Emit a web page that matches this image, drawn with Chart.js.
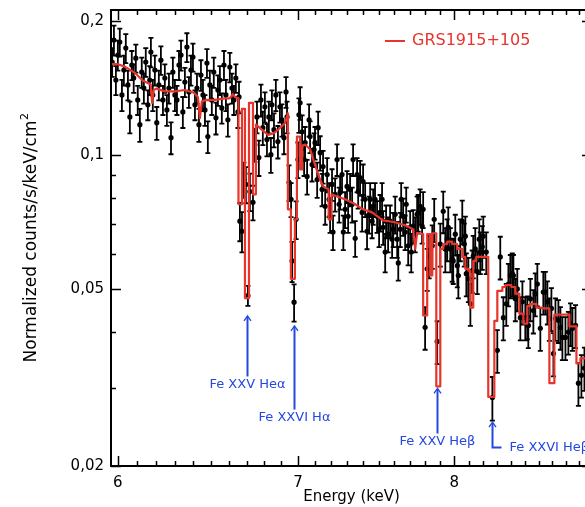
<!DOCTYPE html>
<html>
<head>
<meta charset="utf-8">
<script src="https://cdn.jsdelivr.net/npm/chart.js@4.4.0/dist/chart.umd.min.js"></script>
<style>
  html, body { margin: 0; padding: 0; background: #fff; overflow: hidden; }
  canvas { display: block; }
</style>
</head>
<body>
<canvas id="spec" width="600" height="507"></canvas>
<script>
// observed spectrum (keV, counts/s/keV/cm2, 1-sigma)
const energy = [
  5.971, 5.980, 5.990, 6.000, 6.010, 6.021, 6.031, 6.041, 6.052, 6.062, 6.072, 6.082, 6.093, 6.103, 6.114, 6.124,
  6.135, 6.145, 6.156, 6.166, 6.172, 6.182, 6.193, 6.203, 6.214, 6.225, 6.236, 6.246, 6.257, 6.268, 6.279, 6.289,
  6.300, 6.311, 6.322, 6.333, 6.343, 6.354, 6.365, 6.376, 6.387, 6.398, 6.409, 6.420, 6.431, 6.442, 6.453, 6.464,
  6.475, 6.480, 6.491, 6.502, 6.513, 6.525, 6.536, 6.547, 6.558, 6.570, 6.581, 6.592, 6.603, 6.615, 6.626, 6.637,
  6.649, 6.655,
  6.660, 6.672, 6.683, 6.694, 6.706, 6.717, 6.735, 6.746, 6.758, 6.769, 6.781, 6.792, 6.804, 6.816, 6.827, 6.839,
  6.845, 6.857, 6.868, 6.880, 6.892, 6.904, 6.916, 6.928, 6.934, 6.946, 6.958, 6.964, 6.976, 6.988, 6.999, 7.005,
  7.012, 7.024,
  7.036, 7.042, 7.054, 7.066, 7.072, 7.084, 7.096, 7.102, 7.115, 7.121, 7.133, 7.145, 7.151, 7.164, 7.176, 7.188,
  7.194, 7.206, 7.212, 7.225, 7.237, 7.250, 7.256, 7.268, 7.276, 7.287, 7.299, 7.306, 7.318, 7.331, 7.337, 7.350,
  7.362, 7.369, 7.381, 7.394, 7.400, 7.413, 7.425, 7.438, 7.445, 7.457, 7.464, 7.476, 7.489, 7.502, 7.508, 7.521,
  7.528, 7.541, 7.547, 7.560, 7.573, 7.586, 7.593, 7.606, 7.619, 7.626, 7.639, 7.645, 7.658, 7.671, 7.678, 7.691,
  7.704, 7.711, 7.724, 7.737, 7.750, 7.757, 7.770, 7.783, 7.790,
  7.803, 7.817, 7.830, 7.851, 7.864, 7.884, 7.905, 7.925, 7.939, 7.952, 7.959, 7.973, 7.986, 7.993, 8.007, 8.021,
  8.028, 8.041, 8.055, 8.069, 8.076, 8.083, 8.097, 8.111, 8.124, 8.131, 8.145, 8.159, 8.173, 8.180, 8.194, 8.201,
  8.222, 8.265, 8.300, 8.321, 8.343, 8.364, 8.379, 8.393, 8.407, 8.415, 8.429, 8.443, 8.465, 8.480, 8.501, 8.516,
  8.523, 8.538, 8.560, 8.574, 8.589, 8.611, 8.633, 8.648, 8.663, 8.678, 8.693, 8.708, 8.723, 8.745, 8.760, 8.775,
  8.798, 8.820, 8.836, 8.851, 8.874, 8.896, 8.919, 8.942
];
const flux = [
  0.1618, 0.1813, 0.1474, 0.1677, 0.1794, 0.1365, 0.1552, 0.1739, 0.1437, 0.1218, 0.1593, 0.1489, 0.1651, 0.1330, 0.1170, 0.1536,
  0.1414, 0.1618, 0.1297, 0.1474, 0.1704, 0.1365, 0.1552, 0.1182, 0.1437, 0.1634, 0.1330, 0.1489, 0.1263, 0.1414, 0.1094, 0.1536,
  0.1365, 0.1330, 0.1593, 0.1677, 0.1250, 0.1459, 0.1748, 0.1386, 0.1552, 0.1660, 0.1297, 0.1414, 0.1170, 0.1513, 0.1365, 0.1263,
  0.1610, 0.1100, 0.1437, 0.1330, 0.1536, 0.1212, 0.1400, 0.1474, 0.1276, 0.1593, 0.1365, 0.1200, 0.1577, 0.1414, 0.1330, 0.1489,
  0.1250, 0.1351,
  0.0710, 0.0674, 0.0881, 0.0859, 0.0483, 0.0828, 0.0783, 0.1055, 0.1218, 0.0987, 0.1330, 0.1152, 0.1283, 0.1083, 0.1218, 0.1002,
  0.1297, 0.1140, 0.1365, 0.1072, 0.1283, 0.1200, 0.1094, 0.1386, 0.1218, 0.0868, 0.0795, 0.0578, 0.0467, 0.0717, 0.0977, 0.1231,
  0.1310, 0.1128,
  0.0977, 0.1066, 0.0895, 0.1200, 0.1100, 0.0952, 0.1029, 0.1066, 0.0881, 0.1152, 0.1012, 0.0837, 0.0942, 0.0767, 0.0904, 0.0795,
  0.0728, 0.0859, 0.0671, 0.0816, 0.0977, 0.0775, 0.0824, 0.0904, 0.0671, 0.0755, 0.0850, 0.0728, 0.0837, 0.0775, 0.0977, 0.0650,
  0.0904, 0.0828, 0.0890, 0.0743, 0.0872, 0.0795, 0.0674, 0.0736, 0.0795, 0.0710, 0.0767, 0.0795, 0.0728, 0.0681, 0.0743, 0.0795,
  0.0688, 0.0605, 0.0710, 0.0664, 0.0710, 0.0647, 0.0681, 0.0736, 0.0647, 0.0572, 0.0681, 0.0795, 0.0728, 0.0671, 0.0775, 0.0625,
  0.0688, 0.0605, 0.0692, 0.0664, 0.0736, 0.0743, 0.0767, 0.0692, 0.0755,
  0.0410, 0.0555, 0.0593, 0.0625, 0.0717, 0.0381, 0.0631, 0.0747, 0.0615, 0.0647, 0.0688, 0.0615, 0.0584, 0.0578, 0.0664, 0.0564,
  0.0536, 0.0647, 0.0710, 0.0631, 0.0657, 0.0541, 0.0527, 0.0463, 0.0550, 0.0593, 0.0615, 0.0547, 0.0647, 0.0605, 0.0622, 0.0657,
  0.0605, 0.0285, 0.0364, 0.0590, 0.0431, 0.0463, 0.0513, 0.0536, 0.0541, 0.0536, 0.0475, 0.0500, 0.0431, 0.0468, 0.0431, 0.0433,
  0.0414, 0.0475, 0.0447, 0.0488, 0.0513, 0.0408, 0.0492, 0.0492, 0.0468, 0.0429, 0.0452, 0.0358, 0.0429, 0.0425, 0.0410, 0.0389,
  0.0389, 0.0400, 0.0418, 0.0408, 0.0414, 0.0307, 0.0320, 0.0332
];
const fluxErr = [
  0.012, 0.014, 0.011, 0.013, 0.013, 0.011, 0.012, 0.013, 0.011, 0.010, 0.012, 0.011, 0.012, 0.010, 0.010, 0.012,
  0.011, 0.012, 0.010, 0.011, 0.013, 0.011, 0.012, 0.010, 0.011, 0.012, 0.010, 0.011, 0.010, 0.011, 0.009, 0.012,
  0.011, 0.010, 0.012, 0.013, 0.010, 0.011, 0.013, 0.011, 0.012, 0.012, 0.010, 0.011, 0.010, 0.012, 0.011, 0.010,
  0.012, 0.009, 0.011, 0.010, 0.012, 0.010, 0.011, 0.011, 0.010, 0.012, 0.011, 0.010, 0.012, 0.011, 0.010, 0.011,
  0.010, 0.011,
  0.007, 0.007, 0.008, 0.008, 0.0025, 0.008, 0.007, 0.009, 0.010, 0.009, 0.011, 0.010, 0.010, 0.009, 0.010, 0.009,
  0.010, 0.010, 0.011, 0.009, 0.010, 0.010, 0.009, 0.011, 0.010, 0.008, 0.007, 0.006, 0.0045, 0.007, 0.009, 0.011,
  0.011, 0.010,
  0.008, 0.009, 0.008, 0.010, 0.009, 0.008, 0.009, 0.009, 0.008, 0.010, 0.009, 0.007, 0.008, 0.007, 0.008, 0.007,
  0.006, 0.007, 0.006, 0.007, 0.008, 0.007, 0.007, 0.008, 0.006, 0.007, 0.007, 0.006, 0.007, 0.007, 0.008, 0.006,
  0.008, 0.007, 0.008, 0.007, 0.008, 0.007, 0.006, 0.007, 0.007, 0.006, 0.007, 0.007, 0.006, 0.006, 0.007, 0.007,
  0.006, 0.006, 0.006, 0.006, 0.006, 0.006, 0.006, 0.007, 0.006, 0.005, 0.006, 0.007, 0.007, 0.006, 0.007, 0.006,
  0.006, 0.006, 0.006, 0.006, 0.007, 0.007, 0.007, 0.006, 0.007,
  0.0045, 0.006, 0.0065, 0.007, 0.008, 0.0042, 0.007, 0.008, 0.007, 0.007, 0.0075, 0.007, 0.0065, 0.0065, 0.007, 0.006,
  0.006, 0.007, 0.008, 0.007, 0.007, 0.006, 0.006, 0.005, 0.006, 0.0065, 0.007, 0.006, 0.007, 0.0065, 0.007, 0.007,
  0.0065, 0.0032, 0.004, 0.0065, 0.0048, 0.005, 0.0056, 0.006, 0.006, 0.006, 0.0052, 0.0055, 0.0048, 0.0052, 0.0048, 0.0048,
  0.0046, 0.0052, 0.005, 0.0054, 0.0056, 0.0045, 0.0054, 0.0054, 0.0052, 0.0047, 0.005, 0.004, 0.0047, 0.0047, 0.0045, 0.0043,
  0.0043, 0.0044, 0.0046, 0.0045, 0.0046, 0.0034, 0.0035, 0.0037
];

// folded model; repeated energies are the bin edges of the stepped part
const modelE = [
  5.966, 6.000, 6.036, 6.088, 6.129, 6.171, 6.179, 6.187, 6.203, 6.246, 6.300, 6.354, 6.403, 6.425, 6.436, 6.447,
  6.475, 6.519, 6.575, 6.603, 6.620, 6.632, 6.652,
  6.652, 6.672, 6.672, 6.689, 6.689, 6.712, 6.712, 6.735, 6.735, 6.752, 6.752, 6.787, 6.822, 6.857, 6.892, 6.922, 6.939,
  6.939, 6.957, 6.957, 6.981, 6.981, 6.993, 6.993, 7.012, 7.012, 7.024, 7.024, 7.042, 7.072, 7.102, 7.133, 7.152, 7.185,
  7.185, 7.203, 7.203, 7.250, 7.287, 7.350, 7.400, 7.457, 7.527, 7.605, 7.671, 7.724, 7.737, 7.750, 7.790,
  7.790, 7.817, 7.817, 7.837, 7.837, 7.851, 7.851, 7.878, 7.878, 7.905, 7.905, 7.925, 7.925, 7.952, 7.952, 7.986,
  7.986, 8.020, 8.020, 8.055, 8.055, 8.076, 8.076, 8.097, 8.097, 8.111, 8.111, 8.131, 8.131, 8.152, 8.152, 8.236,
  8.236, 8.279, 8.279, 8.300, 8.300, 8.336, 8.336, 8.357, 8.357, 8.400, 8.400, 8.429, 8.429, 8.458, 8.458, 8.487,
  8.487, 8.516, 8.516, 8.538, 8.538, 8.582, 8.582, 8.626, 8.626, 8.678, 8.678, 8.715, 8.715, 8.828, 8.828, 8.881,
  8.881, 8.911, 8.911, 9.000
];
const modelF = [
  0.160, 0.160, 0.158, 0.153, 0.147, 0.144, 0.131, 0.140, 0.141, 0.139, 0.139, 0.140, 0.138, 0.135, 0.121, 0.132,
  0.133, 0.133, 0.134, 0.134, 0.137, 0.135, 0.134,
  0.0775, 0.0775, 0.127, 0.127, 0.0477, 0.0477, 0.131, 0.131, 0.0816, 0.0816, 0.117, 0.114, 0.111, 0.112, 0.115, 0.118, 0.124,
  0.0755, 0.0755, 0.0527, 0.0527, 0.0717, 0.0717, 0.110, 0.110, 0.0928, 0.0928, 0.105, 0.1055, 0.103, 0.095, 0.088, 0.085, 0.0837,
  0.0717, 0.0717, 0.0816, 0.0804, 0.0795, 0.0775, 0.0755, 0.0743, 0.0713, 0.0706, 0.0695, 0.0681, 0.0615, 0.0668, 0.0664,
  0.0436, 0.0436, 0.0664, 0.0664, 0.0536, 0.0536, 0.0667, 0.0667, 0.0302, 0.0302, 0.0615, 0.0615, 0.0631, 0.0631, 0.0639, 0.0639,
  0.0631, 0.0631, 0.0615, 0.0615, 0.0590, 0.0590, 0.0555, 0.0555, 0.0550, 0.0550, 0.0454, 0.0454, 0.0578, 0.0578, 0.0590, 0.0590,
  0.0286, 0.0286, 0.0424, 0.0424, 0.0495, 0.0495, 0.0505, 0.0505, 0.0510, 0.0510, 0.0505, 0.0505, 0.0488, 0.0488, 0.0440, 0.0440,
  0.0418, 0.0418, 0.0458, 0.0458, 0.0463, 0.0463, 0.0454, 0.0454, 0.0452, 0.0452, 0.0307, 0.0307, 0.0438, 0.0438, 0.0412, 0.0412,
  0.0340, 0.0340, 0.0349, 0.0349
];

// absorption lines marked below the spectrum
const lineNames = ['Fe XXV Heα', 'Fe XXVI Hα', 'Fe XXV Heβ', 'Fe XXVI Heβ'];
const lineE = [6.700, 6.976, 7.886, 8.262];

const xMajor = [6, 7, 8, 9];
const xLabels = ['6', '7', '8', '9'];
const yMajor = [0.2, 0.1, 0.05, 0.02];
const yLabels = ['0,2', '0,1', '0,05', '0,02'];
const yMinor = [0.03, 0.04, 0.06, 0.07, 0.08, 0.09];

const RED = '#e8352b';
const BLUE = '#2447e0';
const FONT = '"DejaVu Sans", sans-serif';

// arrow layout per line: arrow tip and label level (flux units), label placement
const notes = [
  { tip: 0.0435, text: 0.0305, align: 'below' },
  { tip: 0.0413, text: 0.0257, align: 'below' },
  { tip: 0.0299, text: 0.0227, align: 'below' },
  { tip: 0.0251, text: 0.0220, align: 'side' }
];

const frame = {
  id: 'frame',
  beforeDatasetsDraw(chart) {
    const { ctx, chartArea: a, scales: { x, y } } = chart;
    ctx.save();
    ctx.beginPath();
    ctx.rect(a.left, a.top, a.right - a.left, a.bottom - a.top);
    ctx.clip();
    ctx.strokeStyle = '#000';
    ctx.lineWidth = 1.8;
    ctx.beginPath();
    energy.forEach((e, i) => {
      const px = x.getPixelForValue(e);
      const hi = y.getPixelForValue(flux[i] + fluxErr[i]);
      const lo = y.getPixelForValue(flux[i] - fluxErr[i]);
      ctx.moveTo(px, hi); ctx.lineTo(px, lo);
      ctx.moveTo(px - 2.5, hi); ctx.lineTo(px + 2.5, hi);
      ctx.moveTo(px - 2.5, lo); ctx.lineTo(px + 2.5, lo);
    });
    ctx.stroke();
    ctx.restore();
  },
  afterDraw(chart) {
    const { ctx, chartArea: a, scales: { x, y } } = chart;
    ctx.save();

    // box
    ctx.strokeStyle = '#000';
    ctx.lineWidth = 2;
    ctx.strokeRect(a.left, a.top, a.right - a.left, a.bottom - a.top);

    // inward ticks on all four sides
    ctx.lineWidth = 1.5;
    ctx.beginPath();
    for (let k = 60; k <= 90; k++) {
      const px = Math.round(x.getPixelForValue(k / 10)) + 0.5;
      const len = k % 10 === 0 ? 10 : 5;
      ctx.moveTo(px, a.bottom); ctx.lineTo(px, a.bottom - len);
      ctx.moveTo(px, a.top); ctx.lineTo(px, a.top + len);
    }
    yMajor.concat(yMinor).forEach((v, i) => {
      const py = Math.round(y.getPixelForValue(v)) + 0.5;
      const len = i < yMajor.length ? 10 : 5;
      ctx.moveTo(a.left, py); ctx.lineTo(a.left + len, py);
      ctx.moveTo(a.right, py); ctx.lineTo(a.right - len, py);
    });
    ctx.stroke();

    // tick labels
    ctx.fillStyle = '#000';
    ctx.font = '15px ' + FONT;
    ctx.textAlign = 'center';
    ctx.textBaseline = 'middle';
    xMajor.forEach((v, i) => ctx.fillText(xLabels[i], x.getPixelForValue(v), a.bottom + 17));
    ctx.textAlign = 'right';
    yMajor.forEach((v, i) => ctx.fillText(yLabels[i], a.left - 7, y.getPixelForValue(v)));

    // axis titles
    ctx.textAlign = 'center';
    ctx.fillText('Energy (keV)', (a.left + a.right) / 2, a.bottom + 31);
    ctx.save();
    ctx.translate(32, (a.top + a.bottom) / 2);
    ctx.rotate(-Math.PI / 2);
    const main = 'Normalized counts/s/keV/cm';
    ctx.font = '17px ' + FONT;
    const w1 = ctx.measureText(main).width;
    ctx.font = '11px ' + FONT;
    const w2 = ctx.measureText('2').width;
    ctx.textAlign = 'left';
    ctx.font = '17px ' + FONT;
    ctx.fillText(main, -(w1 + w2) / 2, 0);
    ctx.font = '11px ' + FONT;
    ctx.fillText('2', -(w1 + w2) / 2 + w1 + 0.5, -7);
    ctx.restore();

    // legend
    ctx.strokeStyle = RED;
    ctx.lineWidth = 2;
    ctx.beginPath();
    ctx.moveTo(385, a.top + 31); ctx.lineTo(405, a.top + 31);
    ctx.stroke();
    ctx.fillStyle = RED;
    ctx.font = '16px ' + FONT;
    ctx.textAlign = 'left';
    ctx.fillText(chart.data.datasets[1].label, 412, a.top + 31);

    // line identifications
    ctx.strokeStyle = BLUE;
    ctx.fillStyle = BLUE;
    ctx.font = '13px ' + FONT;
    lineE.forEach((e, i) => {
      const n = notes[i];
      const px = Math.round(x.getPixelForValue(e)) + 0.5;
      const top = y.getPixelForValue(n.tip);
      const ty = y.getPixelForValue(n.text);
      ctx.lineWidth = 2;
      ctx.beginPath();
      ctx.moveTo(px, top + 1);
      if (n.align === 'side') {
        ctx.lineTo(px, ty);
        ctx.lineTo(px + 9, ty);
      } else {
        ctx.lineTo(px, ty - 8);
      }
      ctx.stroke();
      ctx.lineWidth = 1.3;
      ctx.beginPath();
      ctx.moveTo(px - 3.5, top + 5); ctx.lineTo(px, top); ctx.lineTo(px + 3.5, top + 5);
      ctx.stroke();
      if (n.align === 'side') {
        ctx.textAlign = 'left';
        ctx.fillText(lineNames[i], px + 17, ty);
      } else {
        ctx.textAlign = 'center';
        ctx.fillText(lineNames[i], px, ty);
      }
    });

    ctx.restore();
  }
};

new Chart(document.getElementById('spec'), {
  type: 'scatter',
  data: {
    datasets: [
      {
        label: 'data',
        data: energy.map((e, i) => ({ x: e, y: flux[i] })),
        pointRadius: 2.6,
        pointBackgroundColor: '#000',
        pointBorderWidth: 0,
        showLine: false,
        order: 2
      },
      {
        type: 'line',
        label: 'GRS1915+105',
        data: modelE.map((e, i) => ({ x: e, y: modelF[i] })),
        borderColor: RED,
        borderWidth: 2.2,
        borderJoinStyle: 'round',
        pointRadius: 0,
        tension: 0,
        fill: false,
        order: 1
      }
    ]
  },
  options: {
    responsive: false,
    animation: false,
    events: [],
    layout: { padding: { left: 111, right: 8, top: 10, bottom: 41 } },
    scales: {
      x: { type: 'logarithmic', min: 5.965, max: 9.0, display: false },
      y: { type: 'logarithmic', min: 0.02, max: 0.2118, display: false }
    },
    plugins: { legend: { display: false }, tooltip: { enabled: false } }
  },
  plugins: [frame]
});
</script>
</body>
</html>
